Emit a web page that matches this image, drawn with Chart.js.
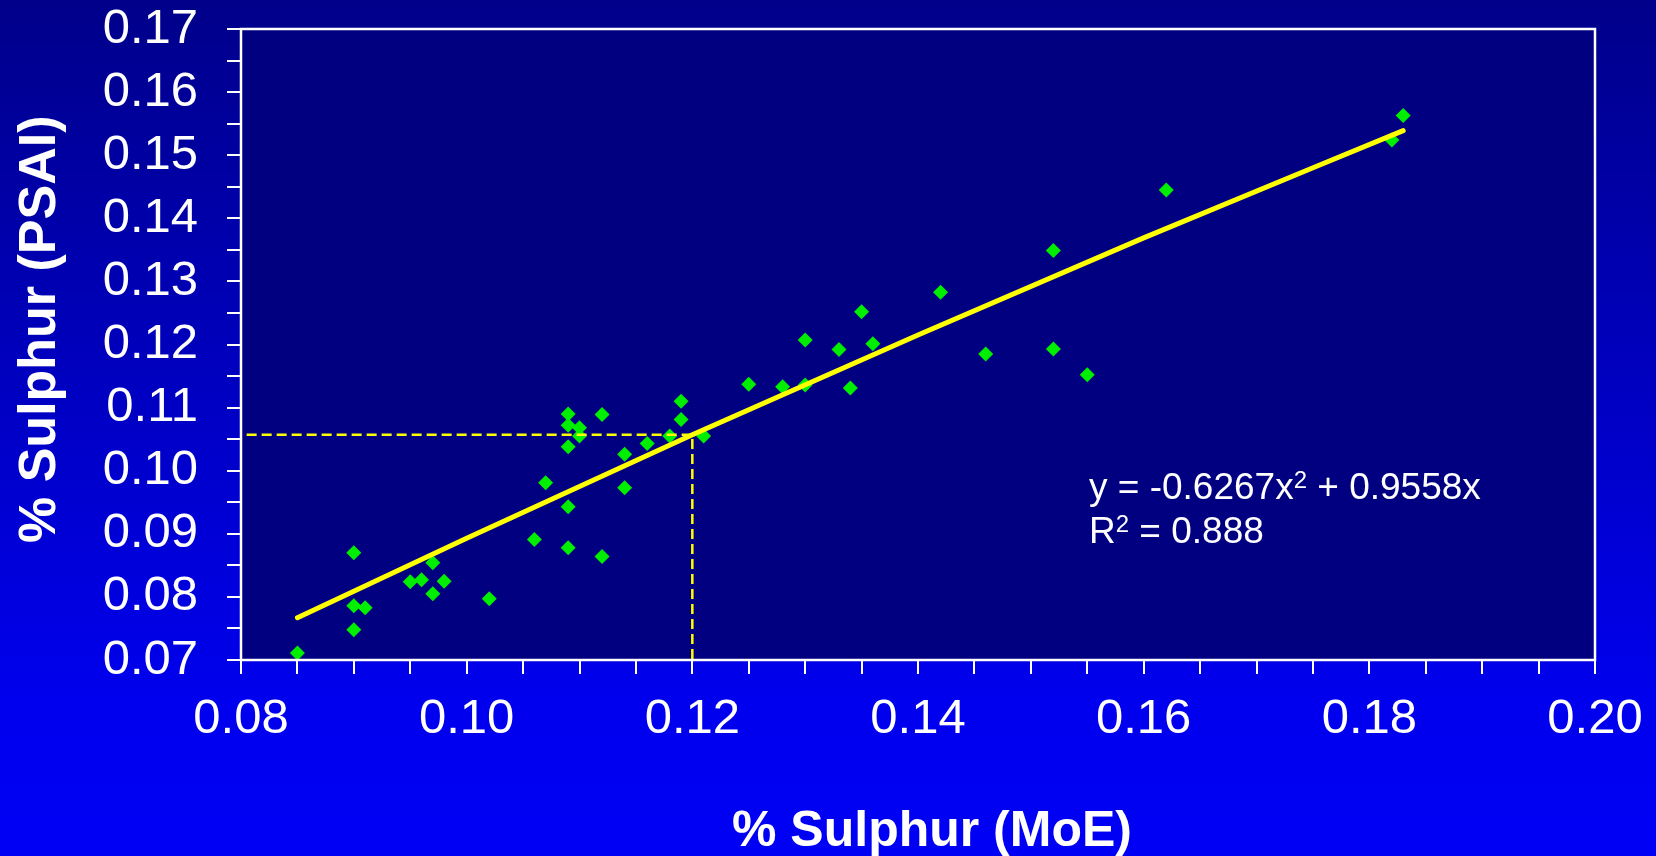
<!DOCTYPE html>
<html>
<head>
<meta charset="utf-8">
<title>% Sulphur (MoE) vs % Sulphur (PSAI)</title>
<script src="https://cdn.jsdelivr.net/npm/chart.js@4.4.1/dist/chart.umd.min.js"></script>
<style>
    html, body { margin: 0; padding: 0; background: #0000c0; overflow: hidden; }
    #chart-wrap { width: 1656px; height: 856px; position: relative; }
</style>
</head>
<body>
<div id="chart-wrap"><canvas id="sulphur-chart"></canvas></div>
<script>
// Mẫu đo: % lưu huỳnh theo MoE (trục x) và PSAI (trục y)
const moeValues = [
    0.085, 0.090, 0.090, 0.091, 0.090, 0.095, 0.096, 0.097, 0.098, 0.097,
    0.102, 0.106, 0.109, 0.109, 0.112, 0.107, 0.114, 0.109, 0.109, 0.110,
    0.110, 0.109, 0.112, 0.114, 0.116, 0.118, 0.119, 0.119, 0.121, 0.125,
    0.128, 0.130, 0.134, 0.130, 0.133, 0.135, 0.136, 0.142, 0.146, 0.152,
    0.152, 0.155, 0.162, 0.183, 0.182
];
const psaiValues = [
    0.0711, 0.0870, 0.0786, 0.0783, 0.0748, 0.0824, 0.0827, 0.0854, 0.0825, 0.0805,
    0.0797, 0.0891, 0.0943, 0.0878, 0.0864, 0.0981, 0.0973, 0.1090, 0.1072, 0.1068,
    0.1055, 0.1038, 0.1089, 0.1026, 0.1043, 0.1055, 0.1110, 0.1081, 0.1055, 0.1137,
    0.1133, 0.1136, 0.1131, 0.1207, 0.1192, 0.1252, 0.1201, 0.1283, 0.1185, 0.1193,
    0.1349, 0.1152, 0.1445, 0.1563, 0.1524
];

// Đường xu hướng
const trendX = [0.085, 0.100, 0.120, 0.140, 0.160, 0.183];
const trendY = [0.0767, 0.0893, 0.1057, 0.1215, 0.1369, 0.1539];

// Đường gióng nét đứt tại x = 0.12
const guideX = [0.0805, 0.120, 0.120];
const guideY = [0.1057, 0.1057, 0.070];

// Nhãn trục
const xTicks = [0.08, 0.10, 0.12, 0.14, 0.16, 0.18, 0.20];
const yTicks = [0.07, 0.08, 0.09, 0.10, 0.11, 0.12, 0.13, 0.14, 0.15, 0.16, 0.17];

const xTitle = '% Sulphur (MoE)';
const yTitle = '% Sulphur (PSAI)';
const equationLines = [
    ['y = -0.6267x', '2', ' + 0.9558x'],
    ['R', '2', ' = 0.888']
];

const FONT = '"Liberation Sans", Arial, sans-serif';

function toPoints(xs, ys) {
    return xs.map((x, i) => ({ x: x, y: ys[i] }));
}

function majorLabel(value, majors) {
    const hit = majors.find(t => Math.abs(t - value) < 1e-9);
    return hit === undefined ? '' : hit.toFixed(2);
}

// Vẽ nền, khung, tiêu đề trục và phương trình
const decorPlugin = {
    id: 'decor',
    beforeDraw(chart) {
        const { ctx, chartArea: a, width, height } = chart;
        ctx.save();
        const g = ctx.createLinearGradient(0, 0, 0, height);
        g.addColorStop(0, 'rgb(0,0,138)');
        g.addColorStop(0.82, 'rgb(0,0,238)');
        g.addColorStop(1, 'rgb(0,0,245)');
        ctx.fillStyle = g;
        ctx.fillRect(0, 0, width, height);
        ctx.fillStyle = '#000080';
        ctx.fillRect(a.left, a.top, a.right - a.left, a.bottom - a.top);
        ctx.restore();
    },
    afterDraw(chart) {
        const { ctx, chartArea: a } = chart;
        ctx.save();
        ctx.strokeStyle = '#ffffff';
        ctx.lineWidth = 2.5;
        ctx.strokeRect(a.left, a.top, a.right - a.left, a.bottom - a.top);

        ctx.fillStyle = '#ffffff';
        ctx.textBaseline = 'alphabetic';
        ctx.textAlign = 'left';

        // tiêu đề trục x
        ctx.font = 'bold 50px ' + FONT;
        ctx.fillText(xTitle, 732, 846);

        // tiêu đề trục y (xoay)
        ctx.save();
        ctx.translate(55, 543);
        ctx.rotate(-Math.PI / 2);
        ctx.font = 'bold 52px ' + FONT;
        ctx.fillText(yTitle, 0, 0);
        ctx.restore();

        // phương trình hồi quy
        const baselines = [499, 543];
        equationLines.forEach((parts, i) => {
            let x = 1089;
            const y = baselines[i];
            ctx.font = '37px ' + FONT;
            ctx.fillText(parts[0], x, y);
            x += ctx.measureText(parts[0]).width;
            ctx.font = '24px ' + FONT;
            ctx.fillText(parts[1], x, y - 11);
            x += ctx.measureText(parts[1]).width;
            ctx.font = '37px ' + FONT;
            ctx.fillText(parts[2], x, y);
        });
        ctx.restore();
    }
};

const ctx = document.getElementById('sulphur-chart').getContext('2d');

new Chart(ctx, {
    type: 'scatter',
    data: {
        datasets: [
            {
                label: 'Trend',
                type: 'line',
                data: toPoints(trendX, trendY),
                borderColor: '#ffff00',
                borderWidth: 5,
                borderCapStyle: 'round',
                cubicInterpolationMode: 'monotone',
                pointRadius: 0,
                fill: false,
                order: 0
            },
            {
                label: 'Guide',
                type: 'line',
                data: toPoints(guideX, guideY),
                borderColor: '#ffff00',
                borderWidth: 2.5,
                borderDash: [10, 5],
                tension: 0,
                pointRadius: 0,
                fill: false,
                order: 1
            },
            {
                label: 'Samples',
                data: toPoints(moeValues, psaiValues),
                pointStyle: 'rectRot',
                pointRadius: 7.5,
                backgroundColor: '#00ee00',
                borderWidth: 0,
                order: 2
            }
        ]
    },
    options: {
        responsive: true,
        maintainAspectRatio: false,
        animation: false,
        events: [],
        layout: { padding: { top: 29, right: 61, left: 0, bottom: 0 } },
        plugins: {
            legend: { display: false },
            tooltip: { enabled: false }
        },
        scales: {
            x: {
                type: 'linear',
                position: 'bottom',
                min: 0.08,
                max: 0.20,
                afterFit(scale) {
                    // cố định khung vẽ
                    scale.height = 196;
                    scale.paddingLeft = 0;
                    scale.paddingRight = 0;
                },
                border: { display: false },
                grid: { drawOnChartArea: false, drawTicks: true, tickLength: 14, color: '#ffffff', lineWidth: 2 },
                ticks: {
                    stepSize: 0.005,
                    autoSkip: false,
                    maxRotation: 0,
                    padding: 16,
                    color: '#ffffff',
                    font: { family: FONT, size: 49 },
                    callback: v => majorLabel(v, xTicks)
                }
            },
            y: {
                type: 'linear',
                min: 0.07,
                max: 0.17,
                afterFit(scale) {
                    scale.width = 241;
                    scale.paddingTop = 0;
                    scale.paddingBottom = 0;
                },
                border: { display: false },
                grid: { drawOnChartArea: false, drawTicks: true, tickLength: 14, color: '#ffffff', lineWidth: 2 },
                ticks: {
                    stepSize: 0.005,
                    autoSkip: false,
                    padding: 29,
                    color: '#ffffff',
                    font: { family: FONT, size: 49 },
                    callback: v => majorLabel(v, yTicks)
                }
            }
        }
    },
    plugins: [decorPlugin]
});
</script>
</body>
</html>
